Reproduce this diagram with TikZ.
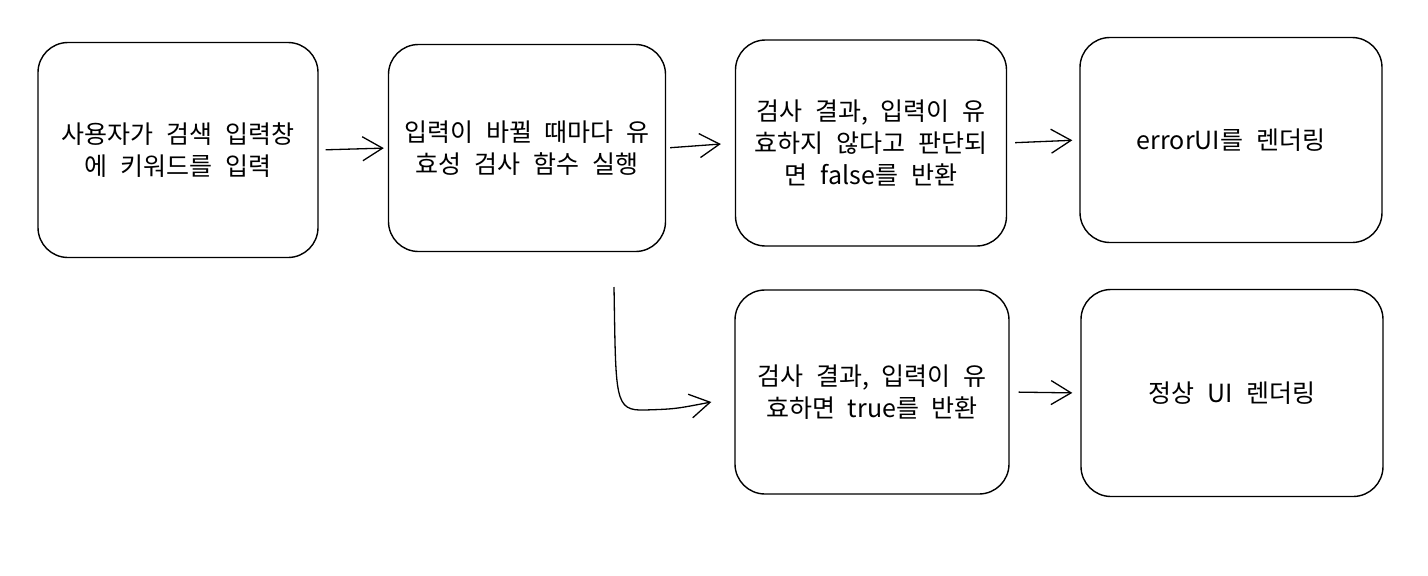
\documentclass[tikz,border=0pt]{standalone}
\usepackage{fontspec}
\setmainfont[WordSpace=2.3]{Noto Sans CJK KR}
\usetikzlibrary{arrows.meta,calc}
\tikzset{
  box/.style={draw=black, line width=1.4pt, rounded corners=30pt, fill=white,
    align=center, inner sep=0pt, font=\fontsize{25}{32}\selectfont},
  conn/.style={line width=1.3pt, -{Straight Barb[length=20pt,width=24pt,line width=1.3pt]}},
}
\begin{document}
\begin{tikzpicture}[x=1pt,y=-1pt]
\useasboundingbox (0,0) rectangle (1428,576);
\fill[white] (0,0) rectangle (1428,576);
\node[box, minimum width=280pt, minimum height=215pt] (b1) at (178,150) {사용자가 검색 입력창\\에 키워드를 입력};
\node[box, minimum width=277pt, minimum height=207pt] (b2) at (527,148) {입력이 바뀔 때마다 유\\효성 검사 함수 실행};
\node[box, minimum width=271pt, minimum height=206pt] (b3) at (871,143) {검사 결과, 입력이 유\\효하지 않다고 판단되\\면 false를 반환};
\node[box, minimum width=302pt, minimum height=205pt] (b4) at (1231,140) {errorUI를 렌더링};
\node[box, minimum width=274pt, minimum height=204pt] (b5) at (872,392) {검사 결과, 입력이 유\\효하면 true를 반환};
\node[box, minimum width=302pt, minimum height=207pt] (b6) at (1232,393) {정상 UI 렌더링};
\coordinate (cs) at (614,287);
\draw[conn, shorten <=7pt, shorten >=4pt] (b1.east) -- (b2.west);
\draw[conn, shorten <=4pt, shorten >=14pt] (b2.east) -- (b3.west);
\draw[conn, shorten <=8pt, shorten >=7pt] (b3.east) -- (b4.west);
\draw[conn, shorten <=9pt, shorten >=8pt] (b5.east) -- (b6.west);
\draw[conn] (cs) .. controls (616,400) and (614,411) .. (645,410) .. controls (675,409) .. ($(b5.west)+(-23,10)$);
\end{tikzpicture}
\end{document}
